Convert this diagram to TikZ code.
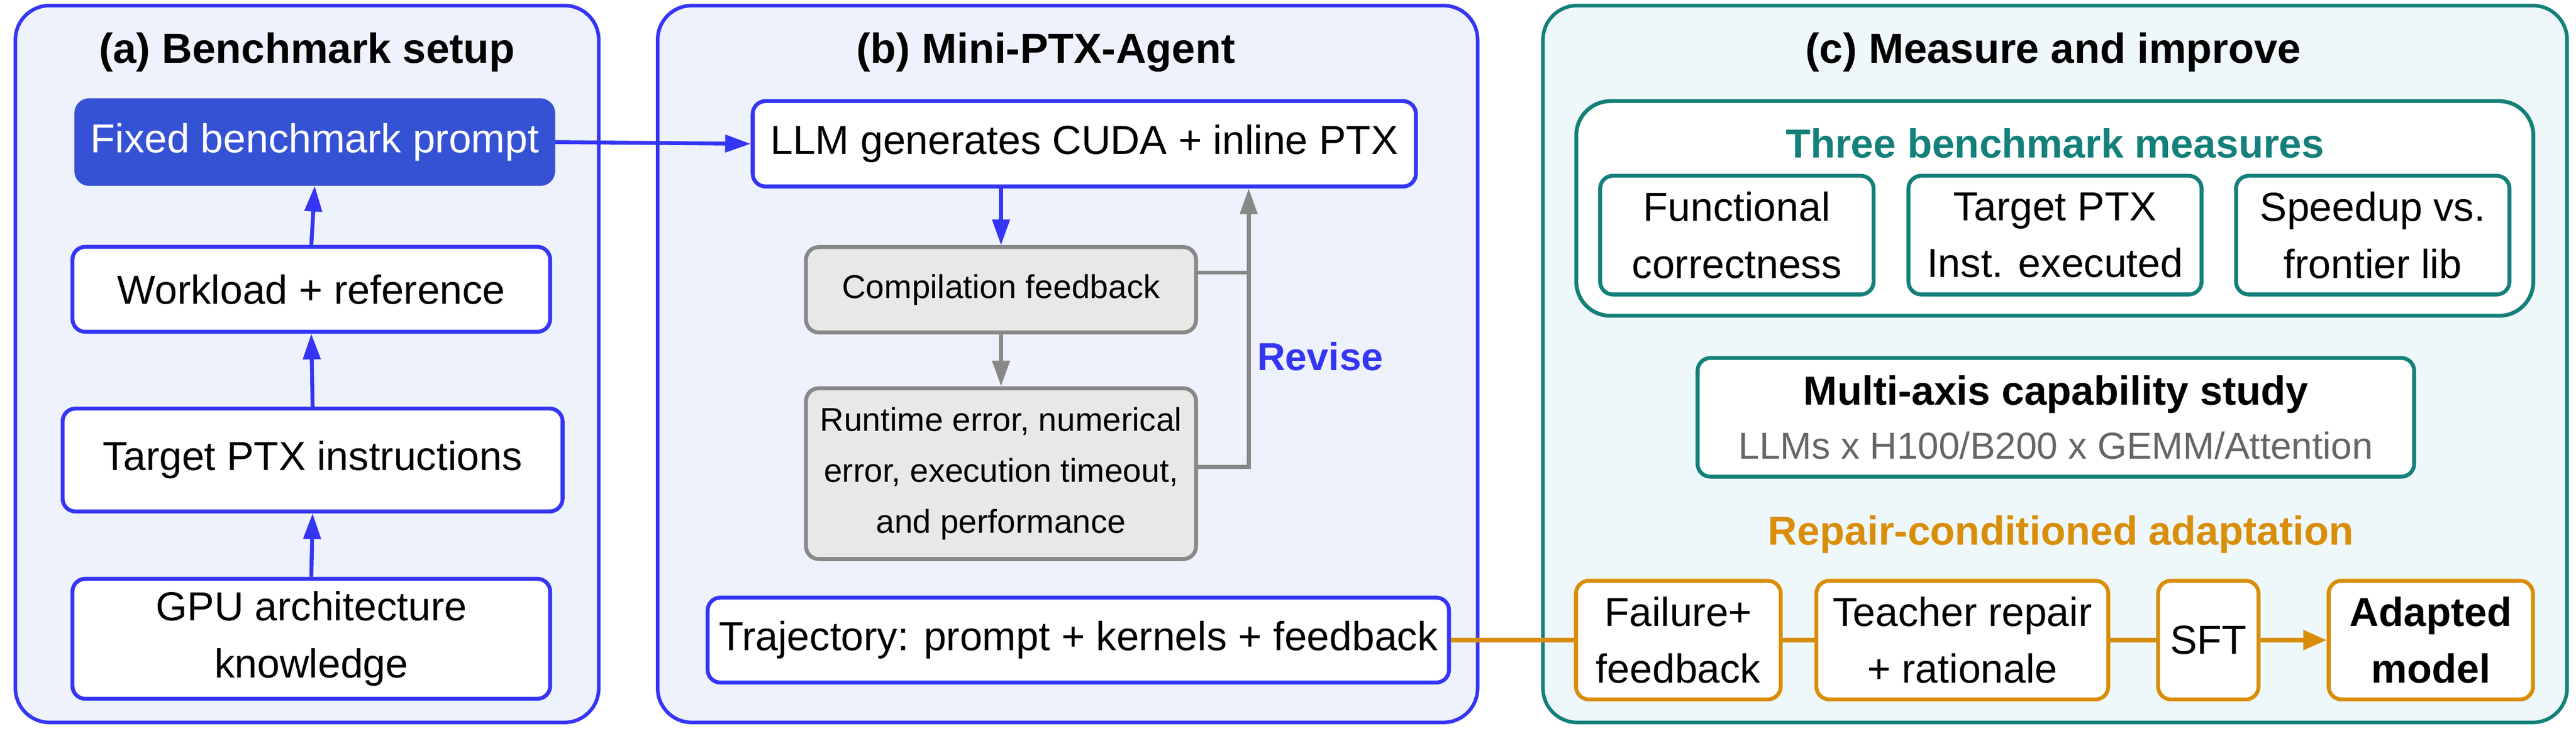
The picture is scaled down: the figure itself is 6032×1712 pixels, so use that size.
\documentclass[tikz,border=0pt]{standalone}
\usepackage{fontspec}
\setmainfont{Liberation Sans}
\usetikzlibrary{arrows.meta}
\definecolor{bl}{HTML}{3535F5}
\definecolor{dbl}{HTML}{3652D4}
\definecolor{pa}{HTML}{EDF2FC}
\definecolor{tl}{HTML}{14807A}
\definecolor{pc}{HTML}{EEF7FA}
\definecolor{og}{HTML}{D98E0A}
\definecolor{gr}{HTML}{888888}
\definecolor{gf}{HTML}{E8E8E8}
\definecolor{sub}{HTML}{666666}
\tikzset{
 panel/.style={rounded corners=0.8cm,line width=2.4pt},
 box/.style={draw=bl,fill=white,rounded corners=0.3cm,line width=2.6pt,inner sep=0pt,align=center,font=\fontsize{27}{38}\selectfont},
 gbox/.style={box,draw=gr,fill=gf,font=\fontsize{22}{34}\selectfont},
 tbox/.style={box,draw=tl},
 obox/.style={box,draw=og},
 ttl/.style={font=\bfseries\fontsize{28}{34}\selectfont},
 barr/.style={draw=bl,line width=2.6pt,-{Triangle[length=0.6cm,width=0.4cm]}},
 garr/.style={draw=gr,line width=2.6pt,-{Triangle[length=0.6cm,width=0.4cm]}},
 gln/.style={draw=gr,line width=2.6pt},
 oln/.style={draw=og,line width=3pt},
 oarr/.style={oln,-{Triangle[length=0.55cm,width=0.45cm]}},
}
\begin{document}
\begin{tikzpicture}[x=0.01cm,y=-0.01cm]
\useasboundingbox (0,0) rectangle (6032,1712);
% panels
\draw[panel,draw=bl,fill=pa] (36,13) rectangle (1402,1693);
\draw[panel,draw=bl,fill=pa] (1540,13) rectangle (3460,1693);
\draw[panel,draw=tl,fill=pc] (3613,13) rectangle (6011,1693);
\node[ttl] (ta) at (719,122) {(a) Benchmark setup};
\node[ttl] (tb) at (2449,122) {(b) Mini-PTX-Agent};
\node[ttl] (tc) at (4808,122) {(c) Measure and improve};
% panel a
\node[box,fill=dbl,draw=dbl,text=white,minimum width=11.16cm,minimum height=1.96cm] (fix) at (737,333) {Fixed benchmark prompt};
\node[box,minimum width=11.18cm,minimum height=1.99cm] (wl) at (729,678) {Workload + reference};
\node[box,minimum width=11.7cm,minimum height=2.41cm] (tp) at (732,1078) {Target PTX instructions};
\node[box,minimum width=11.18cm,minimum height=2.81cm] (gpu) at (729,1497) {GPU architecture\\knowledge};
\draw[barr] (gpu.north) -- (tp.south);
\draw[barr] (tp.north) -- (wl.south);
\draw[barr] (wl.north) -- (fix.south);
% panel b
\node[box,minimum width=15.52cm,minimum height=2.0cm] (llm) at (2539,337) {LLM generates CUDA + inline PTX};
\node[gbox,minimum width=9.13cm,minimum height=2.0cm] (comp) at (2344,679) {Compilation feedback};
\node[gbox,minimum width=9.13cm,minimum height=4.0cm] (rt) at (2344,1110) {Runtime error, numerical\\error, execution timeout,\\and performance};
\node[box,minimum width=17.35cm,minimum height=1.99cm] (traj) at (2525,1500) {Trajectory: prompt + kernels + feedback};
\draw[barr] (llm.south -| comp.north) -- (comp.north);
\draw[garr] (comp.south) -- (rt.north);
\coordinate (rv) at (2924,1094);
\draw[gln] (comp.east |- 0,639) -- (2924,639);
\draw[garr] (rt.east |- rv) -- (rv) -- (llm.south -| rv);
\node[font=\bfseries\fontsize{26}{30}\selectfont,text=bl] (rev) at (3091,835) {Revise};
\draw[barr] (fix.east) -- (llm.west);
% panel c
\draw[tbox,rounded corners=0.8cm] (3691,237) rectangle (5932,740);
\node[font=\bfseries\fontsize{27}{32}\selectfont,text=tl] (tbm) at (4812,336) {Three benchmark measures};
\node[tbox,minimum width=6.4cm,minimum height=2.78cm] (m1) at (4067,551) {Functional\\correctness};
\node[tbox,minimum width=6.86cm,minimum height=2.78cm] (m2) at (4812,551) {Target PTX\\Inst. executed};
\node[tbox,minimum width=6.4cm,minimum height=2.78cm] (m3) at (5556,551) {Speedup vs.\\frontier lib};
\node[tbox,minimum width=16.77cm,minimum height=2.78cm,font=\fontsize{25}{36}\selectfont] (ma) at (4814,978) {{\bfseries\fontsize{27}{36}\selectfont Multi-axis capability study}\\\textcolor{sub}{LLMs x H100/B200 x GEMM/Attention}};
\node[font=\bfseries\fontsize{27}{32}\selectfont,text=og] (rca) at (4826,1252) {Repair-conditioned adaptation};
\node[obox,minimum width=4.79cm,minimum height=2.78cm] (f1) at (3930,1500) {Failure+\\feedback};
\node[obox,minimum width=6.83cm,minimum height=2.78cm] (f2) at (4595,1500) {Teacher repair\\+ rationale};
\node[obox,minimum width=2.35cm,minimum height=2.78cm] (f3) at (5171,1500) {SFT};
\node[obox,minimum width=4.78cm,minimum height=2.78cm,font=\bfseries\fontsize{27}{38}\selectfont] (f4) at (5692,1500) {Adapted\\model};
\draw[oln] (traj.east) -- (f1.west);
\draw[oln] (f1.east) -- (f2.west);
\draw[oln] (f2.east) -- (f3.west);
\draw[oarr] (f3.east) -- (f4.west);
\end{tikzpicture}
\end{document}
